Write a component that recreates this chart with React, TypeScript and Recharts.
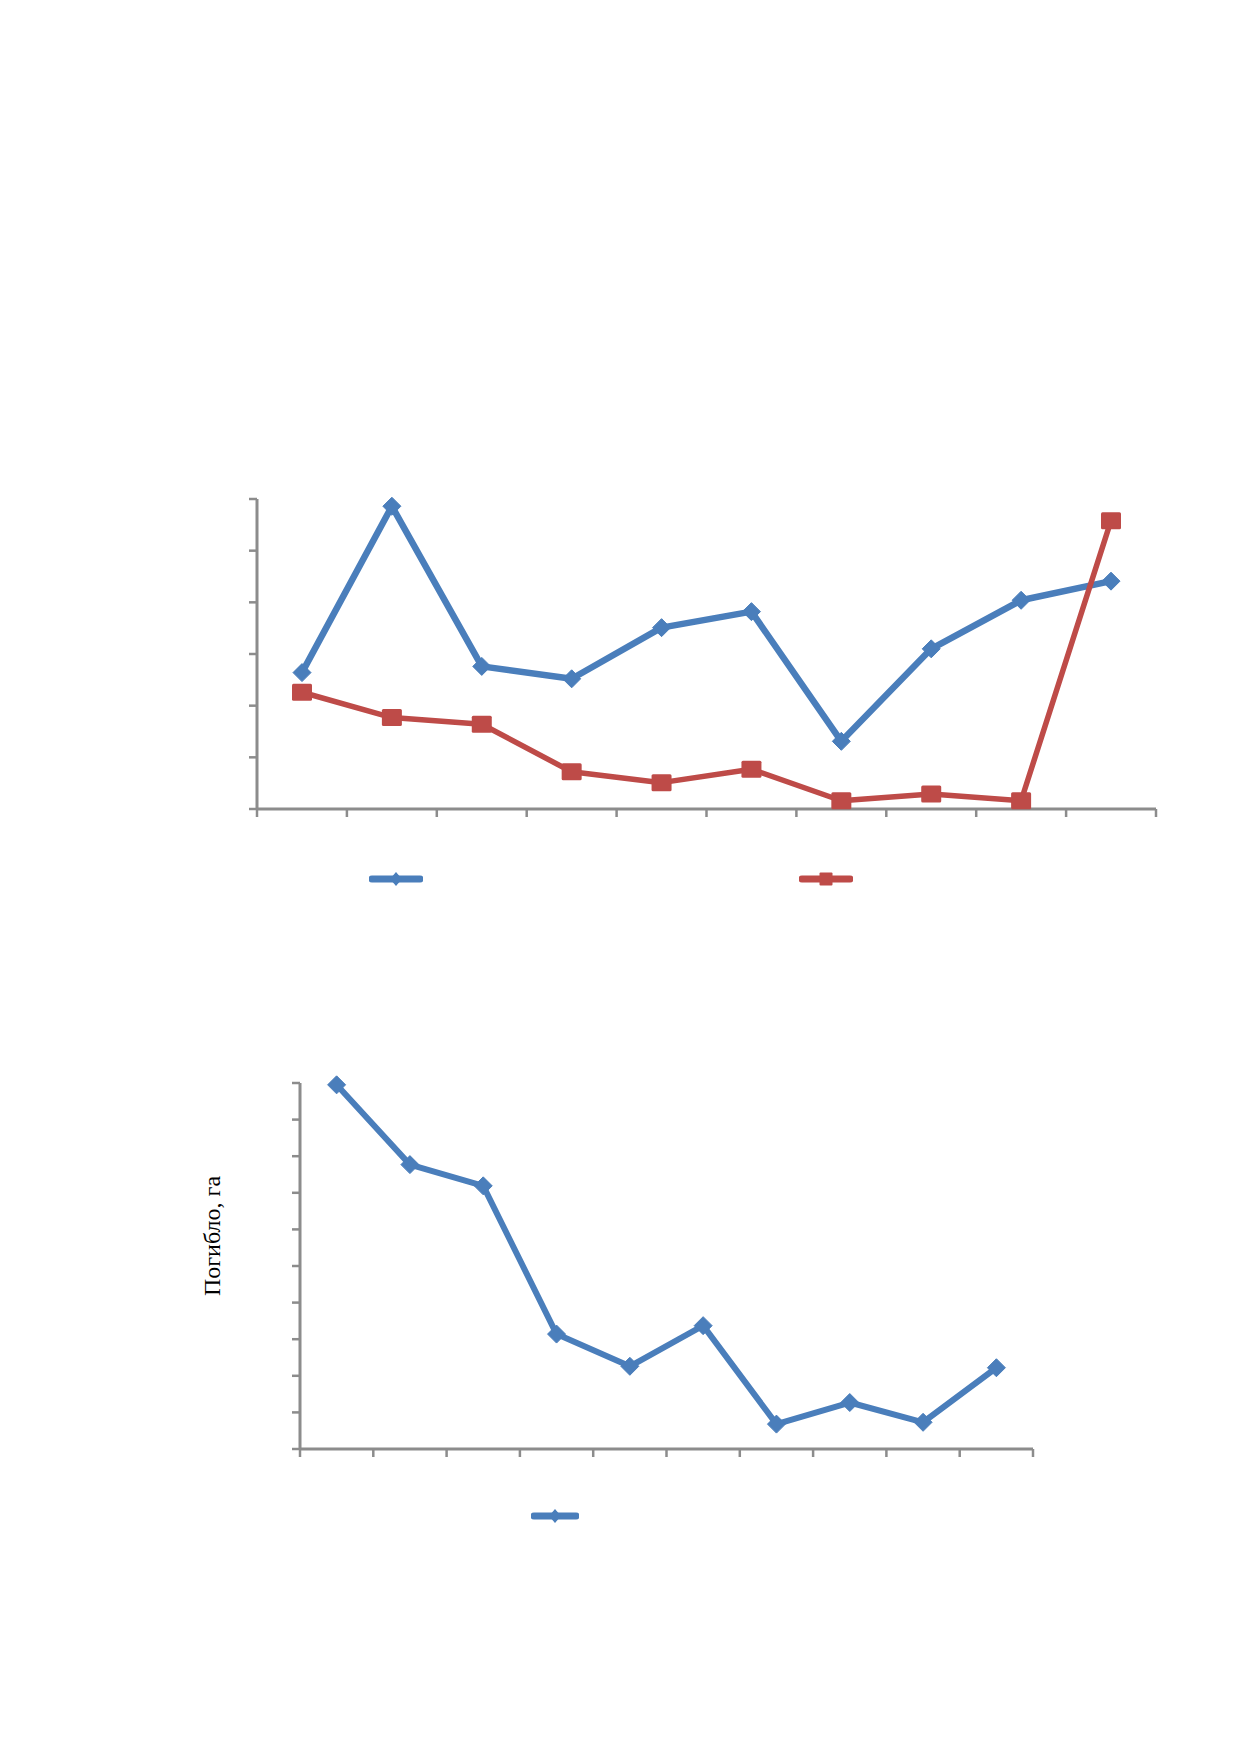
import React from 'react';
import { LineChart, Line, XAxis, YAxis, Legend, Label } from 'recharts';

// ---------- data ----------
const categories1 = ['1', '2', '3', '4', '5', '6', '7', '8', '9', '10'];
const blueSeries1 = [2.64, 5.86, 2.76, 2.52, 3.51, 3.82, 1.31, 3.1, 4.04, 4.41];
const redSeries1 = [2.26, 1.77, 1.64, 0.72, 0.51, 0.77, 0.16, 0.29, 0.16, 5.58];
const yTicks1 = [0, 1, 2, 3, 4, 5, 6];

const categories2 = ['1', '2', '3', '4', '5', '6', '7', '8', '9', '10'];
const lossSeries2 = [9.95, 7.77, 7.19, 3.14, 2.26, 3.37, 0.68, 1.27, 0.73, 2.22];
const yTicks2 = [0, 1, 2, 3, 4, 5, 6, 7, 8, 9, 10];

// category boundaries (tick marks sit between categories)
const frameTicks = [0, 1, 2, 3, 4, 5, 6, 7, 8, 9, 10];

const seriesNames = { blue: 'Ряд 1', red: 'Ряд 2', loss: 'Ряд 1' };
const yLabel2 = 'Погибло, га';

// ---------- styles ----------
const BLUE = '#4A7EBB';
const RED = '#BE4B48';
const AXIS = '#8C8C8C';

const data1 = categories1.map((c, i) => ({ cat: c, blue: blueSeries1[i], red: redSeries1[i] }));
const data2 = categories2.map((c, i) => ({ cat: c, loss: lossSeries2[i] }));

const EmptyTick = () => <g />;

const Diamond = (props: any) => {
  const { cx, cy, index } = props;
  if (cx == null || cy == null) return <g key={`dd-${index}`} />;
  const r = 9;
  return (
    <path
      key={`d-${index}`}
      d={`M${cx},${cy - r} L${cx + r},${cy} L${cx},${cy + r} L${cx - r},${cy} Z`}
      fill={BLUE}
      stroke={BLUE}
      strokeWidth={1}
      strokeLinejoin="round"
    />
  );
};

const Square = (props: any) => {
  const { cx, cy, index } = props;
  if (cx == null || cy == null) return <g key={`ss-${index}`} />;
  return (
    <rect
      key={`s-${index}`}
      x={cx - 10}
      y={cy - 8.5}
      width={20}
      height={17}
      rx={1.5}
      fill={RED}
    />
  );
};

const LegendIcon = ({ type, color, w }: { type: string; color: string; w: number }) => {
  const mid = w / 2;
  return (
    <svg width={w} height={16} style={{ display: 'block' }}>
      <line x1={3} y1={8} x2={w - 3} y2={8} stroke={color} strokeWidth={7} strokeLinecap="round" />
      {type === 'diamond' ? (
        <path d={`M${mid},1 L${mid + 6},8 L${mid},15 L${mid - 6},8 Z`} fill={color} />
      ) : (
        <rect x={mid - 6.5} y={1.5} width={13} height={13} rx={1} fill={color} />
      )}
    </svg>
  );
};

const makeLegend = (iconWidth: number, gap: number) => (props: any) => {
  const items = props.payload || [];
  return (
    <div style={{ display: 'flex', flexDirection: 'row', alignItems: 'center' }}>
      {items.map((entry: any, i: number) => (
        <div key={`li-${i}`} style={{ marginRight: i < items.length - 1 ? gap : 0 }}>
          <LegendIcon type={entry.type} color={entry.color} w={iconWidth} />
        </div>
      ))}
    </div>
  );
};

const axisLineStyle = { stroke: AXIS, strokeWidth: 3 };
const tickLineStyle = { stroke: AXIS, strokeWidth: 2.5 };

export default function App() {
  return (
    <div style={{ position: 'absolute', left: 0, top: 0, width: 1239, height: 1752, background: '#fff' }}>
      {/* Chart 1 */}
      <div style={{ position: 'absolute', left: 187, top: 479 }}>
        <LineChart
          width={989}
          height={430}
          data={data1}
          margin={{ top: 20, right: 20, bottom: 60, left: 0 }}
        >
          <XAxis
            xAxisId="frame"
            dataKey="boundary"
            type="number"
            domain={[0, 10]}
            ticks={frameTicks}
            interval={0}
            allowDataOverflow
            tick={EmptyTick}
            tickSize={8}
            tickLine={tickLineStyle}
            axisLine={axisLineStyle}
            height={40}
          />
          <XAxis xAxisId="cat" dataKey="cat" hide height={0} padding={{ left: 45, right: 45 }} />
          <YAxis
            domain={[0, 6]}
            ticks={yTicks1}
            interval={0}
            tick={EmptyTick}
            tickSize={8}
            tickLine={tickLineStyle}
            axisLine={axisLineStyle}
            width={70}
          />
          <Legend
            verticalAlign="middle"
            align="center"
            layout="horizontal"
            wrapperStyle={{ left: 182, top: 392, width: 'auto' }}
            content={makeLegend(54, 376)}
          />
          <Line
            xAxisId="cat"
            type="linear"
            dataKey="blue"
            name={seriesNames.blue}
            stroke={BLUE}
            strokeWidth={6.5}
            strokeLinejoin="round"
            dot={Diamond}
            activeDot={false}
            legendType="diamond"
            isAnimationActive={false}
          />
          <Line
            xAxisId="cat"
            type="linear"
            dataKey="red"
            name={seriesNames.red}
            stroke={RED}
            strokeWidth={5.5}
            strokeLinejoin="round"
            dot={Square}
            activeDot={false}
            legendType="square"
            isAnimationActive={false}
          />
        </LineChart>
      </div>

      {/* Chart 2 */}
      <div style={{ position: 'absolute', left: 122, top: 1063 }}>
        <LineChart
          width={931}
          height={506}
          data={data2}
          margin={{ top: 20, right: 20, bottom: 80, left: 0 }}
        >
          <XAxis
            xAxisId="frame"
            dataKey="boundary"
            type="number"
            domain={[0, 10]}
            ticks={frameTicks}
            interval={0}
            allowDataOverflow
            tick={EmptyTick}
            tickSize={8}
            tickLine={tickLineStyle}
            axisLine={axisLineStyle}
            height={40}
          />
          <XAxis xAxisId="cat" dataKey="cat" hide height={0} padding={{ left: 36.6, right: 36.6 }} />
          <YAxis
            domain={[0, 10]}
            ticks={yTicks2}
            interval={0}
            tick={EmptyTick}
            tickSize={8}
            tickLine={tickLineStyle}
            axisLine={axisLineStyle}
            width={178}
          >
            <Label
              value={yLabel2}
              position="center"
              angle={-90}
              dy={-30}
              style={{ fontFamily: '"Liberation Serif", "DejaVu Serif", serif', fontSize: 24, fill: '#000' }}
            />
          </YAxis>
          <Legend
            verticalAlign="middle"
            align="center"
            layout="horizontal"
            wrapperStyle={{ left: 409, top: 445, width: 'auto' }}
            content={makeLegend(48, 0)}
          />
          <Line
            xAxisId="cat"
            type="linear"
            dataKey="loss"
            name={seriesNames.loss}
            stroke={BLUE}
            strokeWidth={6}
            strokeLinejoin="round"
            dot={Diamond}
            activeDot={false}
            legendType="diamond"
            isAnimationActive={false}
          />
        </LineChart>
      </div>
    </div>
  );
}
